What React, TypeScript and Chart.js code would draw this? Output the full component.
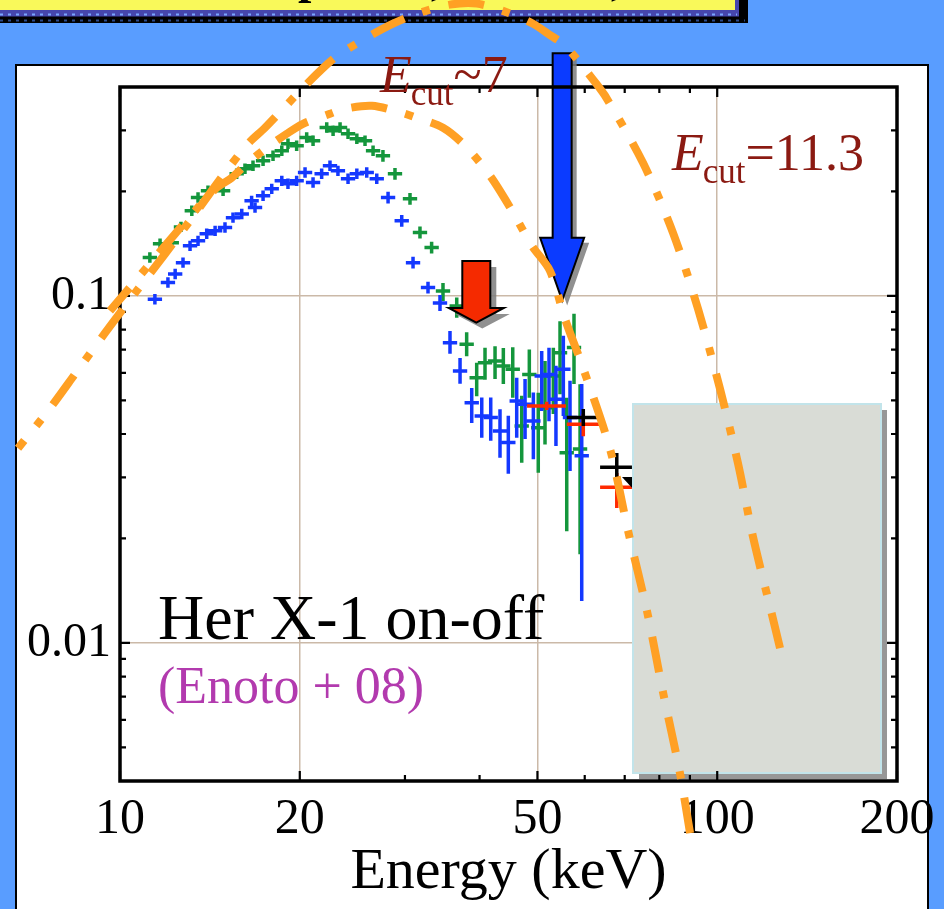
import React, { useEffect, useRef } from 'react';
import { Chart, registerables } from 'chart.js';

Chart.register(...registerables);

const SERIF = "'Liberation Serif', 'Times New Roman', Times, serif";
const ORANGE = '#ffa024';
const GRID = '#cbb9a8';
const DARKRED = '#8b1a12';

// ---------- axes ----------
const xMin = 10;
const xMax = 200;
const yMin = 0.004;
const yMax = 0.4;
const xTickValues = [10, 20, 30, 40, 50, 60, 70, 80, 90, 100, 200];
const xLabeledTicks = [10, 20, 50, 100, 200];
const xGridTicks = [20, 50, 100];
const yTickValues = [0.004, 0.005, 0.006, 0.007, 0.008, 0.009, 0.01, 0.02, 0.03, 0.04, 0.05, 0.06, 0.07, 0.08, 0.09, 0.1, 0.2, 0.3, 0.4];
const yLabeledTicks = [0.01, 0.1];

// ---------- green spectrum ----------
const greenEnergy = [11.22, 11.67, 12.21, 12.65, 13.19, 13.51, 14.04, 14.88, 15.68, 16.19,
  16.70, 17.36, 18.04, 18.66, 19.11, 19.76, 20.54, 21.05, 22.19, 22.74,
  23.36, 24.09, 24.92, 25.72, 26.53, 27.56, 28.87, 30.59, 31.79, 33.25,
  34.74, 36.63, 38.06, 39.56, 40.85, 42.46, 43.84, 45.46, 47.06, 48.46,
  50.16, 51.48, 53.16, 54.55, 55.98, 57.57, 58.93];
const greenFlux = [0.1290, 0.1413, 0.1424, 0.1581, 0.1759, 0.1921, 0.2009, 0.2009, 0.2249, 0.2325,
  0.2371, 0.2452, 0.2534, 0.2619, 0.2745, 0.2708, 0.2861, 0.2799, 0.3057, 0.2990,
  0.3057, 0.2933, 0.2836, 0.2799, 0.2619, 0.2534, 0.2249, 0.1905, 0.1523, 0.1378,
  0.1034, 0.0936, 0.0726, 0.0581, 0.0642, 0.0649, 0.0628, 0.0615, 0.0422, 0.0594,
  0.0417, 0.0476, 0.0588, 0.0686, 0.0353, 0.0710, 0.0362];
// errors in dex (log10 units)
const greenErrUp = [0.015, 0.015, 0.015, 0.015, 0.015, 0.015, 0.015, 0.015, 0.015, 0.015,
  0.015, 0.015, 0.015, 0.015, 0.015, 0.015, 0.015, 0.015, 0.015, 0.015,
  0.015, 0.015, 0.015, 0.015, 0.015, 0.017, 0.017, 0.017, 0.017, 0.017,
  0.023, 0.024, 0.034, 0.043, 0.043, 0.043, 0.052, 0.063, 0.087, 0.072,
  0.101, 0.135, 0.081, 0.091, 0.159, 0.097, 0.187];
const greenErrDown = [0.015, 0.015, 0.015, 0.015, 0.015, 0.015, 0.015, 0.015, 0.015, 0.015,
  0.015, 0.015, 0.015, 0.015, 0.015, 0.015, 0.015, 0.015, 0.015, 0.015,
  0.015, 0.015, 0.015, 0.015, 0.015, 0.017, 0.017, 0.017, 0.017, 0.017,
  0.029, 0.034, 0.035, 0.053, 0.049, 0.052, 0.052, 0.082, 0.106, 0.067,
  0.130, 0.106, 0.110, 0.120, 0.226, 0.105, 0.303];
const greenBinDex = 0.012;

// ---------- blue spectrum ----------
const blueEnergy = [11.44, 12.03, 12.37, 12.75, 13.10, 13.51, 13.97, 14.43, 14.99, 15.46,
  15.99, 16.61, 16.83, 17.36, 17.95, 18.66, 19.11, 19.76, 20.41, 21.05,
  21.76, 22.47, 23.17, 24.09, 24.92, 25.89, 26.91, 28.11, 29.63, 30.95,
  32.79, 34.34, 35.69, 37.10, 38.81, 40.34, 41.76, 43.28, 44.69, 46.16,
  47.67, 49.22, 50.83, 52.28, 53.70, 55.25, 56.69, 59.31];
const blueFlux = [0.0978, 0.1093, 0.1157, 0.1247, 0.1394, 0.1441, 0.1510, 0.1540, 0.1574, 0.1681,
  0.1723, 0.1879, 0.1797, 0.1943, 0.2035, 0.2146, 0.2104, 0.2146, 0.2268, 0.2122,
  0.2249, 0.2371, 0.2293, 0.2175, 0.2249, 0.2268, 0.2175, 0.1921, 0.1646, 0.1247,
  0.1057, 0.0954, 0.0733, 0.0608, 0.0492, 0.0451, 0.0446, 0.0408, 0.0378, 0.0498,
  0.0487, 0.0436, 0.0588, 0.0594, 0.0504, 0.0615, 0.0446, 0.0346];
const blueErrUp = [0.015, 0.015, 0.015, 0.015, 0.015, 0.015, 0.015, 0.015, 0.015, 0.015,
  0.015, 0.015, 0.015, 0.015, 0.015, 0.015, 0.015, 0.015, 0.015, 0.015,
  0.015, 0.015, 0.015, 0.015, 0.015, 0.015, 0.015, 0.017, 0.017, 0.017,
  0.017, 0.023, 0.034, 0.037, 0.043, 0.053, 0.058, 0.063, 0.077, 0.067,
  0.073, 0.082, 0.072, 0.077, 0.096, 0.096, 0.106, 0.207];
const blueErrDown = [0.015, 0.015, 0.015, 0.015, 0.015, 0.015, 0.015, 0.015, 0.015, 0.015,
  0.015, 0.015, 0.015, 0.015, 0.015, 0.015, 0.015, 0.015, 0.015, 0.015,
  0.015, 0.015, 0.015, 0.015, 0.015, 0.015, 0.015, 0.017, 0.017, 0.017,
  0.017, 0.023, 0.032, 0.037, 0.058, 0.063, 0.067, 0.077, 0.090, 0.106,
  0.100, 0.110, 0.101, 0.135, 0.135, 0.135, 0.154, 0.418];
const blueBinDex = 0.012;

// ---------- red / black points ----------
const redEnergy = [51.82, 59.67, 67.89];
const redEnergyLo = [48.03, 55.98, 63.66];
const redEnergyHi = [55.82, 63.66, 71.98];
const redFlux = [0.0482, 0.0427, 0.0281];
const redErrUp = [0.012, 0.029, 0.041];
const redErrDown = [0.012, 0.035, 0.060];

const blackEnergy = [59.67, 67.89];
const blackEnergyLo = [55.98, 63.66];
const blackEnergyHi = [63.66, 71.98];
const blackFlux = [0.0446, 0.0321];
const blackErrUp = [0.025, 0.041];
const blackErrDown = [0.024, 0.040];

// ---------- cutoff models ----------
const ecut7Energy = [9.62, 10.51, 11.97, 13.44, 14.52, 15.38, 16.30, 17.61, 19.02, 20.25,
  22.47, 23.82, 26.42, 29.63, 31.39, 34.74, 37.82, 41.65, 45.34, 48.97,
  52.48, 55.61, 59.62, 66.15, 70.89, 76.29, 81.14, 86.63, 90.06];
const ecut7Flux = [0.0905, 0.1083, 0.1413, 0.1782, 0.2049, 0.2190, 0.2403, 0.2672, 0.2933, 0.3134,
  0.3350, 0.3463, 0.3532, 0.3372, 0.3262, 0.3052, 0.2708, 0.2219, 0.1759, 0.1394,
  0.1181, 0.0858, 0.0620, 0.0362, 0.0211, 0.01234, 0.00721, 0.00421, 0.00283];
const ecut11Energy = [6.75, 7.575, 8.505, 9.44, 10.60, 11.90, 13.35, 14.99, 16.38, 17.49,
  20.57, 22.91, 25.72, 28.65, 31.79, 35.69, 39.61, 44.64, 49.16, 52.09,
  55.61, 61.24, 64.88, 75.11, 84.33, 92.87, 101.1, 108.3, 114.8, 123.1, 127.4];
const ecut11Flux = [0.0364, 0.0466, 0.0612, 0.0782, 0.1020, 0.1322, 0.1723, 0.2264, 0.2745, 0.3052,
  0.4088, 0.4860, 0.5511, 0.6089, 0.6551, 0.6908, 0.6954, 0.6551, 0.6089, 0.5696,
  0.5262, 0.4311, 0.3776, 0.2419, 0.1520, 0.0917, 0.0539, 0.0330, 0.0202, 0.01234, 0.00966];

// ---------- arrows (energy, flux at top / head start / tip) ----------
const blueArrow = { energy: 55, top: 0.5, head: 0.147, tip: 0.097 };
const redArrow = { energy: 39.5, top: 0.126, head: 0.0923, tip: 0.0838 };

type P = { x: number; y: number; xLo: number; xHi: number; yLo: number; yHi: number };

function buildPoints(E: number[], F: number[], up: number[], dn: number[], lo?: number[] | null, hi?: number[] | null, binDex?: number): P[] {
  return E.map((e, i) => ({
    x: e,
    y: F[i],
    xLo: lo ? lo[i] : e / Math.pow(10, binDex || 0),
    xHi: hi ? hi[i] : e * Math.pow(10, binDex || 0),
    yLo: F[i] / Math.pow(10, dn[i]),
    yHi: F[i] * Math.pow(10, up[i]),
  }));
}

function drawSlide(ctx: CanvasRenderingContext2D, w: number, h: number) {
  ctx.save();
  ctx.fillStyle = '#599dff';
  ctx.fillRect(0, 0, w, h);
  // banner
  ctx.fillStyle = '#000';
  ctx.fillRect(0, 0, 748, 23);
  ctx.fillStyle = '#4646ad';
  ctx.fillRect(0, 0, 739, 16.5);
  ctx.fillStyle = '#f9f95a';
  ctx.fillRect(0, 0, 735, 10);
  ctx.lineWidth = 2;
  ctx.setLineDash([3, 5]);
  ctx.strokeStyle = '#7aa6ff';
  ctx.beginPath();
  ctx.moveTo(0, 14.5);
  ctx.lineTo(737, 14.5);
  ctx.stroke();
  ctx.strokeStyle = '#2c4a8c';
  ctx.beginPath();
  ctx.moveTo(0, 20.5);
  ctx.lineTo(745, 20.5);
  ctx.stroke();
  ctx.setLineDash([]);
  // bits of banner text descenders
  ctx.fillStyle = '#000';
  ctx.font = `bold 48px ${SERIF}`;
  ctx.fillText('p', 298, -7);
  ctx.fillText(',', 431, -6);
  ctx.fillText(',', 611, -6);
  // white panel
  ctx.fillStyle = '#ffffff';
  ctx.fillRect(16, 65, 912, h - 65 + 5);
  ctx.strokeStyle = '#000';
  ctx.lineWidth = 2;
  ctx.strokeRect(16, 65, 912, h - 65 + 10);
  ctx.restore();
}

function drawArrow(ctx: CanvasRenderingContext2D, cx: number, yTop: number, yHead: number, yTip: number,
  shaftW: number, headW: number, fill: string, shadow: number) {
  const path = () => {
    ctx.beginPath();
    ctx.moveTo(cx - shaftW / 2, yTop);
    ctx.lineTo(cx + shaftW / 2, yTop);
    ctx.lineTo(cx + shaftW / 2, yHead);
    ctx.lineTo(cx + headW / 2, yHead);
    ctx.lineTo(cx, yTip);
    ctx.lineTo(cx - headW / 2, yHead);
    ctx.lineTo(cx - shaftW / 2, yHead);
    ctx.closePath();
  };
  ctx.save();
  ctx.translate(shadow, shadow);
  path();
  ctx.fillStyle = 'rgba(125,125,125,0.85)';
  ctx.fill();
  ctx.restore();
  ctx.save();
  path();
  ctx.fillStyle = fill;
  ctx.fill();
  ctx.lineWidth = 2;
  ctx.lineJoin = 'miter';
  ctx.strokeStyle = '#000';
  ctx.stroke();
  ctx.restore();
}

const slidePlugin = {
  id: 'slide',
  beforeDraw(chart: any) {
    drawSlide(chart.ctx, chart.width, chart.height);
  },
  beforeDatasetsDraw(chart: any) {
    const { ctx, chartArea: a } = chart;
    const xs = chart.scales.x;
    const ys = chart.scales.y;
    // error crosses
    chart.data.datasets.forEach((ds: any) => {
      if (!ds.errColor) return;
      ctx.save();
      ctx.strokeStyle = ds.errColor;
      ctx.lineWidth = ds.errWidth;
      ctx.lineCap = 'butt';
      ds.data.forEach((p: P) => {
        const px = xs.getPixelForValue(p.x);
        const py = ys.getPixelForValue(p.y);
        ctx.beginPath();
        ctx.moveTo(xs.getPixelForValue(p.xLo), py);
        ctx.lineTo(xs.getPixelForValue(p.xHi), py);
        ctx.moveTo(px, ys.getPixelForValue(p.yHi));
        ctx.lineTo(px, ys.getPixelForValue(p.yLo));
        ctx.stroke();
      });
      ctx.restore();
    });
    // arrows
    drawArrow(ctx, xs.getPixelForValue(redArrow.energy), ys.getPixelForValue(redArrow.top),
      ys.getPixelForValue(redArrow.head), ys.getPixelForValue(redArrow.tip), 28, 55, '#f52a00', 6);
    drawArrow(ctx, xs.getPixelForValue(blueArrow.energy), ys.getPixelForValue(blueArrow.top),
      ys.getPixelForValue(blueArrow.head), ys.getPixelForValue(blueArrow.tip), 19, 44, '#0b3bff', 5);
    // small black wedge peeking from under the cover box
    ctx.save();
    ctx.fillStyle = '#000';
    ctx.beginPath();
    ctx.moveTo(622, 477);
    ctx.lineTo(634, 477);
    ctx.lineTo(634, 490);
    ctx.closePath();
    ctx.fill();
    // cover box with shadow
    ctx.fillStyle = '#979797';
    ctx.fillRect(639, 410, 248, 369);
    ctx.fillStyle = '#d9dcd6';
    ctx.fillRect(633, 404, 248, 369);
    ctx.strokeStyle = '#c2e4ea';
    ctx.lineWidth = 2;
    ctx.strokeRect(633, 404, 248, 369);
    ctx.restore();
    // axis frame with inward ticks
    ctx.save();
    ctx.strokeStyle = '#000';
    ctx.lineWidth = 2.2;
    ctx.beginPath();
    xTickValues.forEach((v) => {
      const px = xs.getPixelForValue(v);
      const len = xLabeledTicks.includes(v) ? 10 : 6;
      ctx.moveTo(px, a.bottom);
      ctx.lineTo(px, a.bottom - len);
      ctx.moveTo(px, a.top);
      ctx.lineTo(px, a.top + len);
    });
    yTickValues.forEach((v) => {
      const py = ys.getPixelForValue(v);
      const len = yLabeledTicks.includes(v) ? 10 : 6;
      ctx.moveTo(a.left, py);
      ctx.lineTo(a.left + len, py);
      ctx.moveTo(a.right, py);
      ctx.lineTo(a.right - len, py);
    });
    ctx.stroke();
    ctx.lineWidth = 3.5;
    ctx.strokeRect(a.left, a.top, a.right - a.left, a.bottom - a.top);
    ctx.restore();
  },
  afterDraw(chart: any) {
    const ctx = chart.ctx as CanvasRenderingContext2D;
    ctx.save();
    ctx.textBaseline = 'alphabetic';
    ctx.textAlign = 'left';
    const ecut = (x: number, y: number, rest: string) => {
      ctx.fillStyle = DARKRED;
      ctx.font = `italic 52px ${SERIF}`;
      ctx.fillText('E', x, y);
      const wE = ctx.measureText('E').width;
      ctx.font = `35px ${SERIF}`;
      ctx.fillText('cut', x + wE - 1, y + 13);
      const wc = ctx.measureText('cut').width;
      ctx.font = `52px ${SERIF}`;
      ctx.fillText(rest, x + wE - 1 + wc, y);
    };
    ecut(380, 92, '~7');
    ecut(672, 170, '=11.3');
    ctx.fillStyle = '#000';
    ctx.font = `64px ${SERIF}`;
    ctx.fillText('Her X-1 on-off', 158, 639);
    ctx.fillStyle = '#b23aae';
    ctx.font = `52px ${SERIF}`;
    ctx.fillText('(Enoto + 08)', 158, 703);
    ctx.restore();
  },
};

export default function App() {
  const ref = useRef<HTMLCanvasElement>(null);
  useEffect(() => {
    if (!ref.current) return;
    const green = buildPoints(greenEnergy, greenFlux, greenErrUp, greenErrDown, null, null, greenBinDex);
    const blue = buildPoints(blueEnergy, blueFlux, blueErrUp, blueErrDown, null, null, blueBinDex);
    const red = buildPoints(redEnergy, redFlux, redErrUp, redErrDown, redEnergyLo, redEnergyHi);
    const black = buildPoints(blackEnergy, blackFlux, blackErrUp, blackErrDown, blackEnergyLo, blackEnergyHi);
    // listed from high to low energy so the whole curve (also outside the axes) is drawn
    const ecut7 = ecut7Energy.map((e, i) => ({ x: e, y: ecut7Flux[i] })).reverse();
    const ecut11 = ecut11Energy.map((e, i) => ({ x: e, y: ecut11Flux[i] })).reverse();
    const modelStyle = {
      showLine: true,
      borderColor: ORANGE,
      backgroundColor: ORANGE,
      borderWidth: 8,
      borderCapStyle: 'butt',
      borderDash: [36, 19, 8, 19],
      pointRadius: 0,
      tension: 0.3,
      fill: false,
      clip: false,
    };
    const chart = new Chart(ref.current, {
      type: 'scatter',
      data: {
        datasets: [
          { label: 'green', data: green, pointRadius: 0, errColor: '#14963c', errWidth: 3.5 } as any,
          { label: 'blue', data: blue, pointRadius: 0, errColor: '#1438ff', errWidth: 3.5 } as any,
          { label: 'red', data: red, pointRadius: 0, errColor: '#ff2a00', errWidth: 3.5 } as any,
          { label: 'black', data: black, pointRadius: 0, errColor: '#000000', errWidth: 3.5 } as any,
          { label: 'Ecut~7', data: ecut7, ...modelStyle } as any,
          { label: 'Ecut=11.3', data: ecut11, ...modelStyle } as any,
        ],
      },
      options: {
        responsive: false,
        animation: false,
        devicePixelRatio: 1,
        layout: { padding: { left: 0, top: 87, right: 47, bottom: 0 } },
        plugins: { legend: { display: false }, tooltip: { enabled: false } },
        scales: {
          x: {
            type: 'logarithmic',
            position: 'bottom',
            min: xMin,
            max: xMax,
            afterBuildTicks: (s: any) => { s.ticks = xTickValues.map((v) => ({ value: v })); },
            afterFit: (s: any) => { s.height = 128; },
            grid: {
              drawTicks: false,
              lineWidth: 1.5,
              color: (c: any) => (c.tick && xGridTicks.includes(c.tick.value) ? GRID : 'rgba(0,0,0,0)'),
            },
            border: { display: false },
            ticks: {
              autoSkip: false,
              maxRotation: 0,
              padding: 9,
              color: '#000',
              font: { family: SERIF, size: 50 },
              callback: (v: any) => (xLabeledTicks.includes(Number(v)) ? String(v) : ''),
            },
            title: {
              display: true,
              text: 'Energy (keV)',
              color: '#000',
              font: { family: SERIF, size: 58 },
              padding: { top: 0, bottom: 1 },
            },
          },
          y: {
            type: 'logarithmic',
            position: 'left',
            min: yMin,
            max: yMax,
            afterBuildTicks: (s: any) => { s.ticks = yTickValues.map((v) => ({ value: v })); },
            afterFit: (s: any) => { s.width = 120; },
            grid: {
              drawTicks: false,
              lineWidth: 1.5,
              color: (c: any) => (c.tick && yLabeledTicks.includes(c.tick.value) ? GRID : 'rgba(0,0,0,0)'),
            },
            border: { display: false },
            ticks: {
              autoSkip: false,
              padding: 9,
              color: '#000',
              font: { family: SERIF, size: 48 },
              callback: (v: any) => (yLabeledTicks.includes(Number(v)) ? String(v) : ''),
            },
          },
        },
      } as any,
      plugins: [slidePlugin],
    });
    return () => chart.destroy();
  }, []);
  return (
    <div style={{ position: 'fixed', left: 0, top: 0, width: 944, height: 909 }}>
      <canvas ref={ref} width={944} height={909} style={{ display: 'block', width: 944, height: 909 }} />
    </div>
  );
}
